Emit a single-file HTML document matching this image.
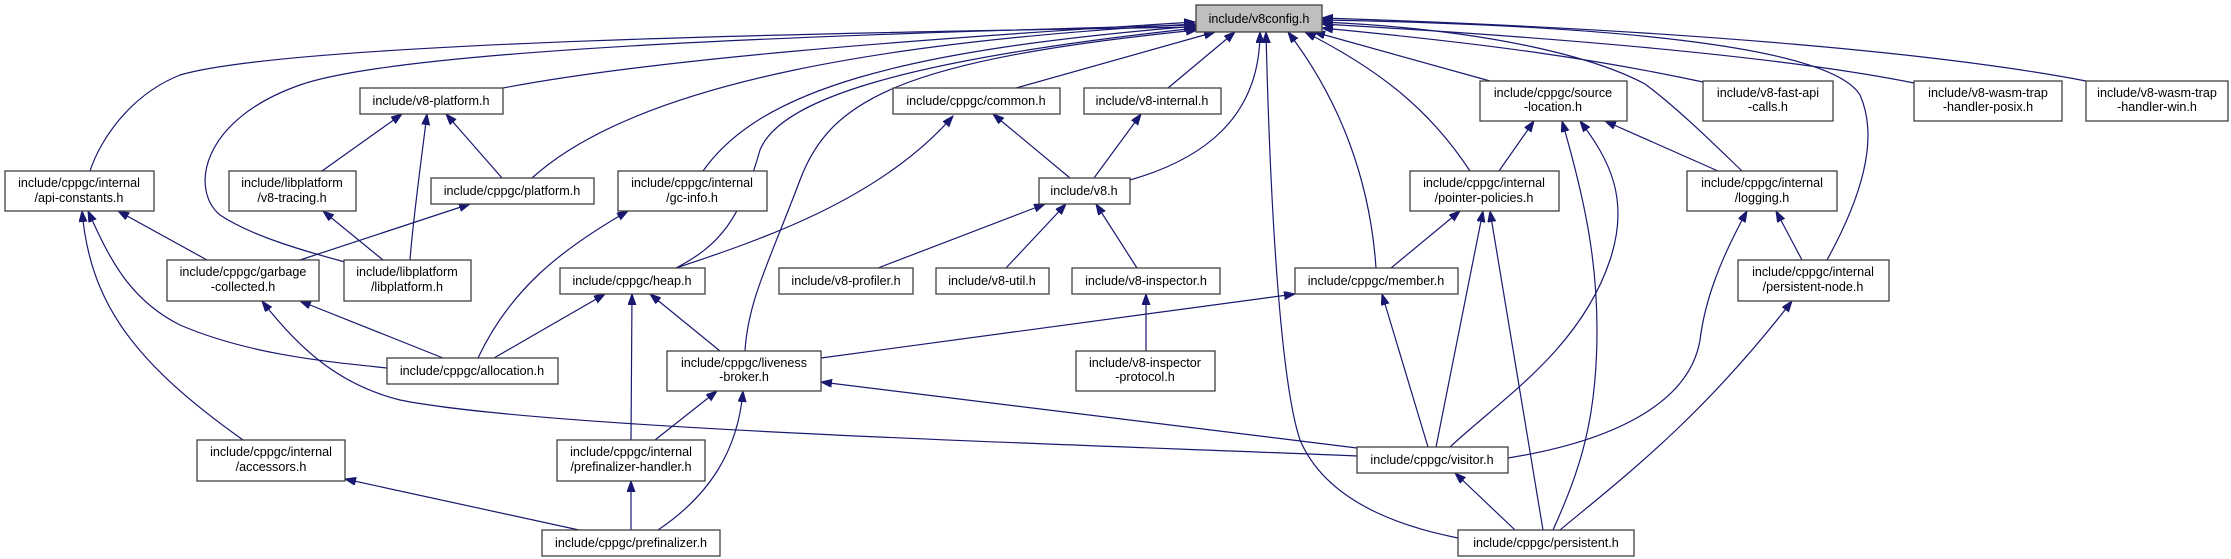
<!DOCTYPE html>
<html><head><meta charset="utf-8"><style>
html,body{margin:0;padding:0;background:#fff;}
svg{display:block;}
text{font-family:"Liberation Sans",Arial,sans-serif;font-size:12.6px;fill:#000;}
.e{fill:none;stroke:#191970;stroke-width:1.2;marker-start:url(#a);}
.n{fill:#fff;stroke:#404040;stroke-width:1.3;}
</style></head><body>
<svg width="2231" height="559" viewBox="0 0 2231 559" xmlns="http://www.w3.org/2000/svg">
<defs><marker id="a" markerUnits="userSpaceOnUse" markerWidth="12" markerHeight="10" refX="11" refY="4" orient="auto-start-reverse"><path d="M0,0 L11,4 L0,8 z" fill="#191970" stroke="#191970"/></marker></defs>
<g>
<path class="e" d="M1195,27 C900,32 300,40 180,75 C130,95 100,140 90,171"/>
<path class="e" d="M1195,25 C800,35 400,50 300,85 C200,120 190,190 220,215 C250,235 300,250 345,262"/>
<path class="e" d="M1195,22 C900,40 650,60 503,88"/>
<path class="e" d="M1195,24 C900,40 640,80 532,178"/>
<path class="e" d="M1197,26 C900,50 760,90 703,171"/>
<path class="e" d="M1197,28 C900,60 780,100 760,150 C740,220 720,245 676,268"/>
<path class="e" d="M953,116 C880,200 760,240 676,268"/>
<path class="e" d="M1197,30 C900,60 830,100 800,180 C770,260 748,300 745,351"/>
<path class="e" d="M1215,32 L1016,88"/>
<path class="e" d="M1235,32 L1168,88"/>
<path class="e" d="M1260,32 C1260,120 1200,160 1130,180"/>
<path class="e" d="M1266,32 C1270,200 1280,380 1300,440 C1330,510 1420,530 1458,538"/>
<path class="e" d="M1288,32 C1340,100 1370,180 1376,268"/>
<path class="e" d="M1305,32 C1380,70 1430,110 1470,171"/>
<path class="e" d="M1314,32 L1490,81"/>
<path class="e" d="M1322,28 C1500,45 1600,60 1703,82"/>
<path class="e" d="M1322,22 C1500,30 1600,60 1645,84 C1680,110 1720,150 1742,171"/>
<path class="e" d="M1322,20 C1600,25 1830,45 1860,95 C1880,140 1860,200 1827,260"/>
<path class="e" d="M1322,24 C1600,40 1800,60 1914,83"/>
<path class="e" d="M1322,18 C1700,30 1950,55 2086,81"/>
<path class="e" d="M402,114 L322,171"/>
<path class="e" d="M427,114 C420,170 413,220 410,260"/>
<path class="e" d="M446,114 L502,178"/>
<path class="e" d="M118,211 L207,260"/>
<path class="e" d="M88,211 C110,260 130,300 180,325 C250,355 330,362 387,368"/>
<path class="e" d="M82,211 C90,300 130,360 243,440"/>
<path class="e" d="M323,211 L383,260"/>
<path class="e" d="M470,204 L300,260"/>
<path class="e" d="M628,211 C560,250 510,290 478,358"/>
<path class="e" d="M300,301 L443,358"/>
<path class="e" d="M262,301 C300,350 340,385 400,400 C550,430 1100,445 1357,456"/>
<path class="e" d="M605,294 L494,358"/>
<path class="e" d="M632,294 L631,440"/>
<path class="e" d="M650,294 L720,351"/>
<path class="e" d="M993,114 L1070,178"/>
<path class="e" d="M1141,114 L1094,178"/>
<path class="e" d="M1045,204 L878,268"/>
<path class="e" d="M1066,204 L1006,268"/>
<path class="e" d="M1096,204 L1137,268"/>
<path class="e" d="M1146,294 L1146,351"/>
<path class="e" d="M1295,294 L821,358"/>
<path class="e" d="M1460,211 L1391,268"/>
<path class="e" d="M821,382 L1357,448"/>
<path class="e" d="M1382,294 L1428,447"/>
<path class="e" d="M1483,211 L1436,447"/>
<path class="e" d="M1490,211 L1543,530"/>
<path class="e" d="M1534,121 L1499,171"/>
<path class="e" d="M1562,121 C1585,200 1597,260 1597,330 C1597,420 1580,470 1553,530"/>
<path class="e" d="M1580,121 C1610,160 1630,200 1610,260 C1580,350 1500,400 1450,447"/>
<path class="e" d="M1605,121 L1718,171"/>
<path class="e" d="M1747,211 C1720,260 1705,300 1700,340 C1690,400 1620,440 1508,458"/>
<path class="e" d="M1776,211 L1802,260"/>
<path class="e" d="M1792,301 C1700,420 1620,480 1560,530"/>
<path class="e" d="M1455,473 L1515,530"/>
<path class="e" d="M717,391 L655,440"/>
<path class="e" d="M743,391 C738,450 710,495 658,530"/>
<path class="e" d="M631,481 L631,530"/>
<path class="e" d="M345,479 L579,530"/>
</g>
<g>
<rect x="1196" y="5" width="126" height="27" fill="#bfbfbf" stroke="#404040" stroke-width="1.3"/>
<text x="1259" y="23" text-anchor="middle">include/v8config.h</text>

<rect class="n" x="360" y="88" width="143" height="26"/><text x="431" y="105" text-anchor="middle">include/v8-platform.h</text>
<rect class="n" x="893" y="88" width="167" height="26"/><text x="976" y="105" text-anchor="middle">include/cppgc/common.h</text>
<rect class="n" x="1084" y="88" width="137" height="26"/><text x="1152" y="105" text-anchor="middle">include/v8-internal.h</text>
<rect class="n" x="1480" y="81" width="147" height="40"/><text x="1553" y="97" text-anchor="middle">include/cppgc/source</text><text x="1553" y="111" text-anchor="middle">-location.h</text>
<rect class="n" x="1703" y="81" width="130" height="40"/><text x="1768" y="97" text-anchor="middle">include/v8-fast-api</text><text x="1768" y="111" text-anchor="middle">-calls.h</text>
<rect class="n" x="1914" y="81" width="148" height="40"/><text x="1988" y="97" text-anchor="middle">include/v8-wasm-trap</text><text x="1988" y="111" text-anchor="middle">-handler-posix.h</text>
<rect class="n" x="2086" y="81" width="142" height="40"/><text x="2157" y="97" text-anchor="middle">include/v8-wasm-trap</text><text x="2157" y="111" text-anchor="middle">-handler-win.h</text>

<rect class="n" x="5" y="171" width="149" height="40"/><text x="79" y="187" text-anchor="middle">include/cppgc/internal</text><text x="79" y="202" text-anchor="middle">/api-constants.h</text>
<rect class="n" x="229" y="171" width="127" height="40"/><text x="292" y="187" text-anchor="middle">include/libplatform</text><text x="292" y="202" text-anchor="middle">/v8-tracing.h</text>
<rect class="n" x="431" y="178" width="163" height="26"/><text x="512" y="195" text-anchor="middle">include/cppgc/platform.h</text>
<rect class="n" x="618" y="171" width="149" height="40"/><text x="692" y="187" text-anchor="middle">include/cppgc/internal</text><text x="692" y="202" text-anchor="middle">/gc-info.h</text>
<rect class="n" x="1039" y="178" width="91" height="26"/><text x="1084" y="195" text-anchor="middle">include/v8.h</text>
<rect class="n" x="1410" y="171" width="149" height="40"/><text x="1484" y="187" text-anchor="middle">include/cppgc/internal</text><text x="1484" y="202" text-anchor="middle">/pointer-policies.h</text>
<rect class="n" x="1687" y="171" width="150" height="40"/><text x="1762" y="187" text-anchor="middle">include/cppgc/internal</text><text x="1762" y="202" text-anchor="middle">/logging.h</text>

<rect class="n" x="167" y="260" width="152" height="41"/><text x="243" y="276" text-anchor="middle">include/cppgc/garbage</text><text x="243" y="291" text-anchor="middle">-collected.h</text>
<rect class="n" x="344" y="260" width="127" height="41"/><text x="407" y="276" text-anchor="middle">include/libplatform</text><text x="407" y="291" text-anchor="middle">/libplatform.h</text>
<rect class="n" x="560" y="268" width="145" height="26"/><text x="632" y="285" text-anchor="middle">include/cppgc/heap.h</text>
<rect class="n" x="779" y="268" width="134" height="26"/><text x="846" y="285" text-anchor="middle">include/v8-profiler.h</text>
<rect class="n" x="936" y="268" width="113" height="26"/><text x="992" y="285" text-anchor="middle">include/v8-util.h</text>
<rect class="n" x="1072" y="268" width="148" height="26"/><text x="1146" y="285" text-anchor="middle">include/v8-inspector.h</text>
<rect class="n" x="1295" y="268" width="163" height="26"/><text x="1376" y="285" text-anchor="middle">include/cppgc/member.h</text>
<rect class="n" x="1738" y="260" width="151" height="41"/><text x="1813" y="276" text-anchor="middle">include/cppgc/internal</text><text x="1813" y="291" text-anchor="middle">/persistent-node.h</text>

<rect class="n" x="387" y="358" width="171" height="26"/><text x="472" y="375" text-anchor="middle">include/cppgc/allocation.h</text>
<rect class="n" x="667" y="351" width="154" height="40"/><text x="744" y="367" text-anchor="middle">include/cppgc/liveness</text><text x="744" y="381" text-anchor="middle">-broker.h</text>
<rect class="n" x="1076" y="351" width="139" height="40"/><text x="1145" y="367" text-anchor="middle">include/v8-inspector</text><text x="1145" y="381" text-anchor="middle">-protocol.h</text>

<rect class="n" x="197" y="440" width="148" height="41"/><text x="271" y="456" text-anchor="middle">include/cppgc/internal</text><text x="271" y="471" text-anchor="middle">/accessors.h</text>
<rect class="n" x="557" y="440" width="148" height="41"/><text x="631" y="456" text-anchor="middle">include/cppgc/internal</text><text x="631" y="471" text-anchor="middle">/prefinalizer-handler.h</text>
<rect class="n" x="1357" y="447" width="151" height="26"/><text x="1432" y="464" text-anchor="middle">include/cppgc/visitor.h</text>

<rect class="n" x="542" y="530" width="178" height="26"/><text x="631" y="547" text-anchor="middle">include/cppgc/prefinalizer.h</text>
<rect class="n" x="1458" y="530" width="176" height="26"/><text x="1546" y="547" text-anchor="middle">include/cppgc/persistent.h</text>
</g>
</svg>
</body></html>
